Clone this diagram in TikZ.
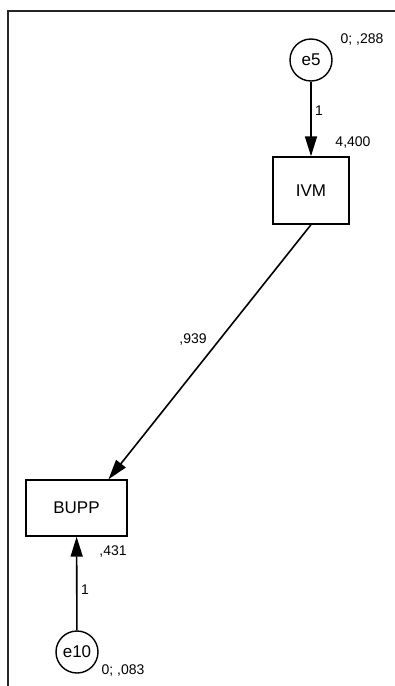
\documentclass[tikz,border=0pt]{standalone}
\usepackage{fontspec}
\setmainfont{Liberation Sans}
\usetikzlibrary{arrows.meta}

\begin{document}
\begin{tikzpicture}[x=1pt, y=-1pt,
  obsvar/.style={draw, line width=1.4pt, minimum width=76pt, minimum height=67pt, inner sep=0pt, font=\fontsize{17}{17}\selectfont},
  errvar/.style={draw, circle, line width=1.4pt, minimum size=42pt, inner sep=0pt, font=\fontsize{17}{17}\selectfont},
  est/.style={font=\fontsize{14}{14}\selectfont, inner sep=0pt},
  path/.style={-{Triangle[length=20pt, width=12pt]}, line width=1.6pt}]

  \useasboundingbox (0, 0) rectangle (395, 686);

  % -- Frame --
  \draw[line width=1.5pt, black!85] (8, 686) -- (8, 11) -- (395, 11);

  % -- Variables --
  \node[errvar] (e5) at (311, 60) {e5};
  \node[obsvar] (IVM) at (311, 190.5) {IVM};
  \node[obsvar, minimum width=101pt, minimum height=56pt] (BUPP) at (76.5, 508) {BUPP};
  \node[errvar] (e10) at (77, 652) {e10};

  % -- Paths --
  \draw[path] (e5) -- (IVM);
  \draw[path] (IVM.south) -- ([xshift=32pt]BUPP.north);
  \draw[path] (e10) -- (BUPP);

  % Estimates
  \node[est] (v5) at (362, 40) {0; ,288};
  \node[est] (w5) at (319, 111) {1};
  \node[est] (iIVM) at (353, 143) {4,400};
  \node[est] (b1) at (193, 340) {,939};
  \node[est] (rBUPP) at (113, 552) {,431};
  \node[est] (w10) at (85, 590) {1};
  \node[est] (v10) at (123, 670) {0; ,083};

\end{tikzpicture}
\end{document}
